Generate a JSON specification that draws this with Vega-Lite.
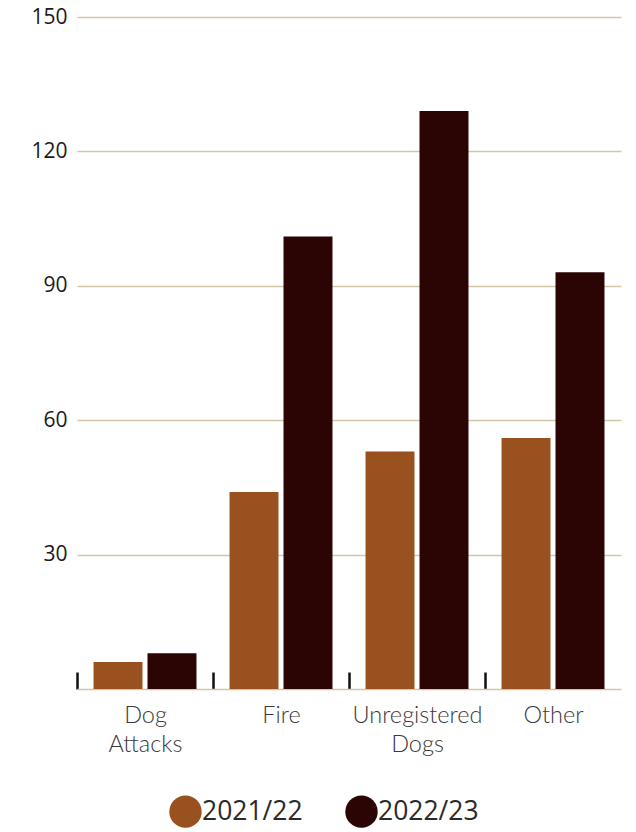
{
  "$schema": "https://vega.github.io/schema/vega-lite/v6.json",
  "width": 544,
  "height": 672,
  "autosize": {"type": "none"},
  "padding": {"left": 77, "top": 17, "right": 15, "bottom": 143},
  "background": "white",
  "data": {
    "values": [
      {"category": "Dog Attacks", "year": "2021/22", "count": 6},
      {"category": "Dog Attacks", "year": "2022/23", "count": 8},
      {"category": "Fire", "year": "2021/22", "count": 44},
      {"category": "Fire", "year": "2022/23", "count": 101},
      {"category": "Unregistered Dogs", "year": "2021/22", "count": 53},
      {"category": "Unregistered Dogs", "year": "2022/23", "count": 129},
      {"category": "Other", "year": "2021/22", "count": 56},
      {"category": "Other", "year": "2022/23", "count": 93}
    ]
  },
  "mark": {"type": "bar"},
  "encoding": {
    "x": {
      "field": "category",
      "type": "nominal",
      "sort": ["Dog Attacks", "Fire", "Unregistered Dogs", "Other"],
      "scale": {"paddingInner": 0, "paddingOuter": 0},
      "axis": {
        "title": null,
        "labelAngle": 0,
        "labelExpr": "split(datum.label, ' ')",
        "labelFont": "Lato",
        "labelFontWeight": 300,
        "labelFontSize": 23.5,
        "labelLineHeight": 29,
        "labelColor": "#3a3a3a",
        "labelPadding": 31,
        "labelOffset": 68,
        "domainColor": "#d3c6a6",
        "domainWidth": 1.5,
        "ticks": true,
        "tickColor": "#111111",
        "tickWidth": 2.5,
        "tickSize": -17,
        "tickOffset": -68
      }
    },
    "xOffset": {
      "field": "year",
      "type": "nominal",
      "scale": {"paddingInner": 0.093, "paddingOuter": 0.306}
    },
    "y": {
      "field": "count",
      "type": "quantitative",
      "scale": {"domain": [0, 150], "nice": false},
      "axis": {
        "title": null,
        "values": [30, 60, 90, 120, 150],
        "domain": false,
        "ticks": false,
        "grid": true,
        "gridColor": "#d3c6a6",
        "gridWidth": 1.5,
        "labelFont": "Open Sans",
        "labelFontSize": 21,
        "labelColor": "#1a1a1a",
        "labelPadding": 10
      }
    },
    "color": {
      "field": "year",
      "type": "nominal",
      "scale": {"domain": ["2021/22", "2022/23"], "range": ["#99521f", "#2b0404"]},
      "legend": {
        "title": null,
        "orient": "none",
        "legendX": 92,
        "legendY": 778,
        "direction": "horizontal",
        "symbolType": "circle",
        "symbolSize": 1050,
        "symbolStrokeWidth": 0,
        "labelFont": "Open Sans",
        "labelFontSize": 26.5,
        "labelColor": "#2a2a2a",
        "labelOffset": 0,
        "columnPadding": 42
      }
    }
  },
  "config": {
    "view": {"stroke": null}
  }
}
